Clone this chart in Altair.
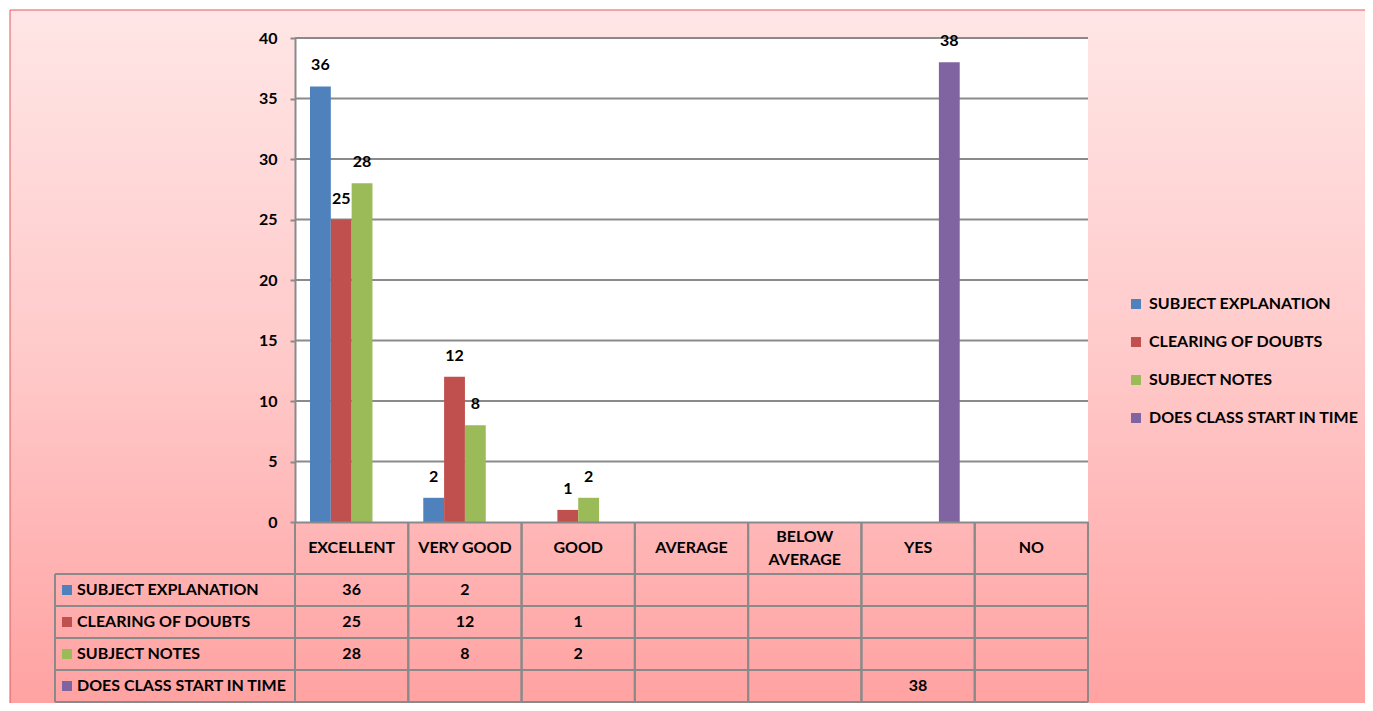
import altair as alt
import pandas as pd

# ---------------- data ----------------
categories = ["EXCELLENT", "VERY GOOD", "GOOD", "AVERAGE", "BELOW AVERAGE", "YES", "NO"]
series = ["SUBJECT EXPLANATION", "CLEARING OF DOUBTS", "SUBJECT NOTES", "DOES CLASS START IN TIME"]
subject_explanation = [36, 2, None, None, None, None, None]
clearing_of_doubts = [25, 12, 1, None, None, None, None]
subject_notes = [28, 8, 2, None, None, None, None]
class_start_in_time = [None, None, None, None, None, 38, None]
series_colors = ["#4F81BD", "#C0504D", "#9BBB59", "#8064A2"]
y_ticks = [0, 5, 10, 15, 20, 25, 30, 35, 40]

values_by_series = [subject_explanation, clearing_of_doubts, subject_notes, class_start_in_time]
rows = []
for s, vals in zip(series, values_by_series):
    for c, v in zip(categories, vals):
        if v is not None:
            rows.append({"cat": c, "series": s, "value": v})
df = pd.DataFrame(rows)
one = pd.DataFrame({"k": [0]})
grid_df = pd.DataFrame({"v": y_ticks[1:]})
series_df = pd.DataFrame({"series": series})
cat_df = pd.DataFrame({"cat": categories})

# ---------------- layout ----------------
W, H = 793, 484
HEADER = 52
ROW = 32
TABLE_BOTTOM = H + HEADER + ROW * len(series)
LABEL_COL = 240
FONT = "Lato"
FS = 16
GRID = "#8A8A8A"
LINE_H = 23

x_scale = alt.Scale(domain=categories, paddingInner=0, paddingOuter=0)
x_axis = alt.Axis(
    orient="bottom", title=None, ticks=False, labels=False,
    domainColor=GRID, domainWidth=2, zindex=1,
)
x_enc = alt.X("cat:N", scale=x_scale, axis=x_axis)
xoff_enc = alt.XOffset("series:N", scale=alt.Scale(domain=series, paddingInner=0, paddingOuter=0.72))
y_val = alt.Y("value:Q", scale=alt.Scale(domain=[0, 40]), axis=None)
color_enc = alt.Color(
    "series:N",
    scale=alt.Scale(domain=series, range=series_colors),
    legend=alt.Legend(
        orient="none", legendX=833, legendY=258, title=None,
        symbolType="square", symbolSize=100, symbolStrokeWidth=0,
        labelFont=FONT, labelFontSize=FS, labelFontWeight="bold", labelColor="#000000",
        rowPadding=22, labelOffset=5, padding=0, labelLimit=300,
    ),
)
table_y_scale = alt.Scale(domain=series, range=[H + HEADER, TABLE_BOTTOM], paddingInner=0, paddingOuter=0)

gradient = alt.LinearGradient(
    gradient="linear", x1=0, x2=0, y1=0, y2=1,
    stops=[alt.GradientStop(color="#FFE6E6", offset=0),
           alt.GradientStop(color="#FFC8C8", offset=0.5),
           alt.GradientStop(color="#FF9E9E", offset=1)],
)

bg = alt.Chart(one).mark_rect(fill=gradient, stroke="#E05A5A", strokeWidth=1).encode(
    x=alt.value(-285), x2=alt.value(1085), y=alt.value(-28), y2=alt.value(700)
)
plot_bg = alt.Chart(one).mark_rect(fill="#FFFFFF").encode(
    x=alt.value(0), x2=alt.value(W), y=alt.value(0), y2=alt.value(H)
)
grid = alt.Chart(grid_df).mark_rule(color=GRID, strokeWidth=2).encode(
    y=alt.Y("v:Q", scale=alt.Scale(domain=[0, 40]), axis=None),
    x=alt.value(0), x2=alt.value(W),
)
bars = alt.Chart(df).mark_bar().encode(
    x=x_enc, xOffset=xoff_enc,
    y=alt.Y("value:Q", scale=alt.Scale(domain=[0, 40]),
            axis=alt.Axis(orient="left", values=y_ticks, title=None, grid=False,
                          labelFont=FONT, labelFontSize=FS, labelFontWeight="bold",
                          labelColor="#000000", labelPadding=13, tickSize=5,
                          tickColor=GRID, tickWidth=2, domainColor=GRID, domainWidth=2,
                          zindex=1)),
    color=color_enc,
)
bar_labels = alt.Chart(df).mark_text(
    font=FONT, fontSize=FS, fontWeight="bold", color="#000000", baseline="middle", dy=-21
).encode(x=x_enc, xOffset=xoff_enc, y=y_val, text="value:Q")

# header row (category names)
header_single = alt.Chart(cat_df).transform_filter(
    "indexof(datum.cat, 'BELOW') < 0"
).mark_text(
    font=FONT, fontSize=FS, fontWeight="bold", color="#000000", align="center", baseline="middle"
).encode(x=x_enc, y=alt.value(H + HEADER / 2), text="cat:N")
header_multi = alt.Chart(cat_df).transform_filter(
    "indexof(datum.cat, 'BELOW') >= 0"
).transform_calculate(
    lbl="split(datum.cat, ' ')"
).mark_text(
    font=FONT, fontSize=FS, fontWeight="bold", color="#000000", align="center",
    baseline="middle", lineHeight=LINE_H
).encode(x=x_enc, y=alt.value(H + HEADER / 2 - LINE_H / 2), text="lbl:N")

# data table
h_lines_top = alt.Chart(series_df).mark_rule(color=GRID, strokeWidth=2).encode(
    y=alt.Y("series:N", scale=table_y_scale, axis=None, bandPosition=0),
    x=alt.value(-LABEL_COL), x2=alt.value(W),
)
h_lines_bottom = alt.Chart(series_df).mark_rule(color=GRID, strokeWidth=2).encode(
    y=alt.Y("series:N", scale=table_y_scale, axis=None, bandPosition=1),
    x=alt.value(-LABEL_COL), x2=alt.value(W),
)
v_lines_left = alt.Chart(cat_df).mark_rule(color=GRID, strokeWidth=2).encode(
    x=alt.X("cat:N", scale=x_scale, axis=x_axis, bandPosition=0),
    y=alt.value(H), y2=alt.value(TABLE_BOTTOM),
)
v_lines_right = alt.Chart(cat_df).mark_rule(color=GRID, strokeWidth=2).encode(
    x=alt.X("cat:N", scale=x_scale, axis=x_axis, bandPosition=1),
    y=alt.value(H), y2=alt.value(TABLE_BOTTOM),
)
label_col_border = alt.Chart(one).mark_rule(color=GRID, strokeWidth=2).encode(
    x=alt.value(-LABEL_COL), y=alt.value(H + HEADER), y2=alt.value(TABLE_BOTTOM)
)
swatches = alt.Chart(series_df).mark_square(size=100, opacity=1).encode(
    x=alt.value(-228), y=alt.Y("series:N", scale=table_y_scale, axis=None), color=color_enc
)
row_labels = alt.Chart(series_df).mark_text(
    font=FONT, fontSize=FS, fontWeight="bold", color="#000000", align="left", baseline="middle"
).encode(x=alt.value(-218), y=alt.Y("series:N", scale=table_y_scale, axis=None), text="series:N")
cell_values = alt.Chart(df).mark_text(
    font=FONT, fontSize=FS, fontWeight="bold", color="#000000", align="center", baseline="middle"
).encode(x=x_enc, y=alt.Y("series:N", scale=table_y_scale, axis=None), text="value:Q")

chart = alt.layer(
    bg, plot_bg, grid, bars, bar_labels, header_single, header_multi,
    h_lines_top, h_lines_bottom, v_lines_left, v_lines_right, label_col_border,
    swatches, row_labels, cell_values,
).resolve_scale(y="independent").properties(
    width=W, height=H,
    autosize=alt.AutoSizeParams(type="none"),
    padding={"left": 287, "top": 30, "right": 277, "bottom": 181},
).configure_view(stroke=None)

chart.save("out.html", embed_options={"renderer": "svg", "actions": False})
